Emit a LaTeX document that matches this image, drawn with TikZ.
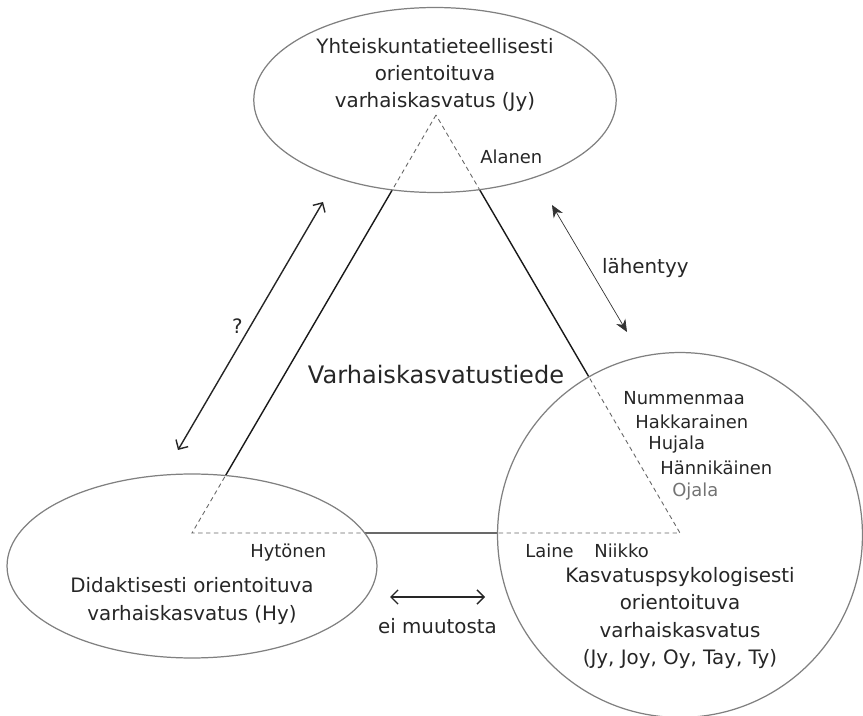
\documentclass[tikz,border=0pt]{standalone}
\usepackage{fontspec}
\setmainfont{DejaVu Sans}
\usetikzlibrary{shapes.geometric,arrows.meta}

\tikzset{
  field/.style={draw=black!50, line width=0.7pt, fill=white, inner sep=0pt,
    path picture={\draw[innerdash] (apex) -- (cornerhy) -- (cornerky) -- cycle;}},
  innerdash/.style={draw=black!60, line width=0.5pt, dash pattern=on 2.5pt off 2pt},
  triside/.style={draw=black!90, line width=0.8pt},
  maintext/.style={font=\fontsize{11.3}{15.4}\selectfont, text=black!85, align=center, inner sep=1pt},
  bigtext/.style={font=\fontsize{13.7}{16}\selectfont, text=black!85},
  scholar/.style={font=\fontsize{10.2}{12}\selectfont, anchor=west, inner sep=0pt},
  twoway/.style={{Straight Barb[length=4pt,width=8pt]}-{Straight Barb[length=4pt,width=8pt]}, line width=0.8pt, black!85},
  thinway/.style={{Stealth[length=7pt,width=6pt]}-{Stealth[length=7pt,width=6pt]}, line width=0.4pt, black!80},
}

\begin{document}
\begin{tikzpicture}[x=0.02cm,y=-0.02cm]
  \useasboundingbox (0,0) rectangle (863,716);
  % corners of the triangle
  \coordinate (apex) at (436,115);
  \coordinate (cornerhy) at (192,533);
  \coordinate (cornerky) at (680,533);
  \draw[triside] (apex) -- (cornerhy) -- (cornerky) -- cycle;

  % the three orientations
  \node[field, ellipse, minimum width=7.25cm, minimum height=3.7cm] (jy) at (435,100) {};
  \node[field, ellipse, minimum width=7.4cm, minimum height=3.68cm] (hy) at (192,566) {};
  \node[field, circle, minimum size=7.3cm] (ky) at (680,535) {};

  \node[maintext] (jytext) at (435,75) {Yhteiskuntatieteellisesti\\orientoituva\\varhaiskasvatus (Jy)};
  \node[maintext] (hytext) at (192,601) {Didaktisesti orientoituva\\varhaiskasvatus (Hy)};
  \node[maintext] (kytext) at (680,618) {Kasvatuspsykologisesti\\orientoituva\\varhaiskasvatus\\(Jy, Joy, Oy, Tay, Ty)};
  \node[bigtext] (vkt) at (436,375) {Varhaiskasvatustiede};

  % researchers
  \node[scholar, text=black!85] (alanen) at (480,157) {Alanen};
  \node[scholar, text=black!85] (hytonen) at (250,553) {Hytönen};
  \node[scholar, text=black!85] (laine) at (525,551) {Laine};
  \node[scholar, text=black!85] (niikko) at (594,551) {Niikko};
  \foreach \nm/\x/\y/\col [count=\i] in {Nummenmaa/623/398/black!85, Hakkarainen/635/422/black!85,
      Hujala/648/445/black!85, Hännikäinen/660/468/black!85, Ojala/672/492/black!55}
    \node[scholar, text=\col] (ky\i) at (\x,\y) {\nm};

  % relations
  \coordinate (qa) at (323,202);
  \coordinate (qb) at (178,450);
  \draw[twoway] (qa) -- node[maintext, left=3pt] (qlabel) {?} (qb);
  \coordinate (la) at (552,205);
  \coordinate (lb) at (627,332);
  \draw[thinway] (la) -- node[maintext, right=6pt] (llabel) {lähentyy} (lb);
  \coordinate (ea) at (390,597);
  \coordinate (eb) at (485,597);
  \draw[twoway] (ea) -- node[maintext, below=11pt] (elabel) {ei muutosta} (eb);
\end{tikzpicture}
\end{document}
